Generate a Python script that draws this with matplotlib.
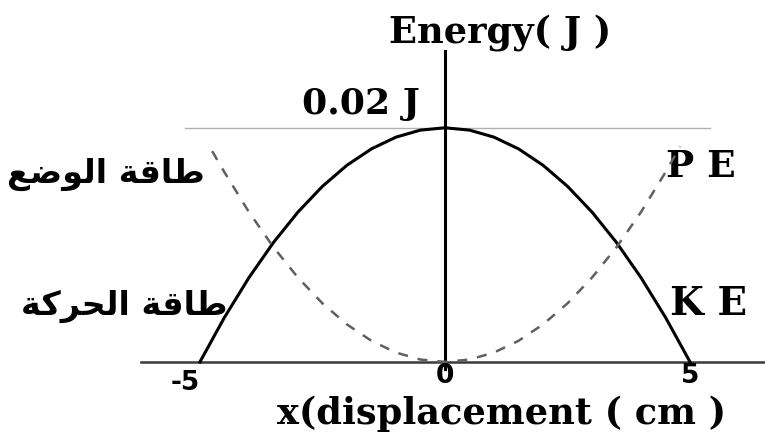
"""
Energy of a simple harmonic oscillator vs displacement: KE (solid) and PE (dashed).
"""
import matplotlib.pyplot as plt

# ---------------------------------------------------------------------------
# Data
# ---------------------------------------------------------------------------
X_TICKS = [-5, 0, 5]
E_MAX = 0.02   # J

KE_X = [-5.0, -4.5, -4.0, -3.5, -3.0, -2.5, -2.0, -1.5, -1.0, -0.5, 0.0,
        0.5, 1.0, 1.5, 2.0, 2.5, 3.0, 3.5, 4.0, 4.5, 5.0]
KE_Y = [0.0, 0.0038, 0.0072, 0.0102, 0.0128, 0.0150, 0.0168, 0.0182, 0.0192,
        0.0198, 0.0200, 0.0198, 0.0192, 0.0182, 0.0168, 0.0150, 0.0128,
        0.0102, 0.0072, 0.0038, 0.0]

PE_X = [-4.75, -4.5, -4.0, -3.5, -3.0, -2.5, -2.0, -1.5, -1.0, -0.5, 0.0,
        0.5, 1.0, 1.5, 2.0, 2.5, 3.0, 3.5, 4.0, 4.5, 4.8]
PE_Y = [0.0180, 0.0162, 0.0128, 0.0098, 0.0072, 0.0050, 0.0032, 0.0018,
        0.0008, 0.0002, 0.0, 0.0002, 0.0008, 0.0018, 0.0032, 0.0050, 0.0072,
        0.0098, 0.0128, 0.0162, 0.0184]

# Arabic labels, pre-shaped (presentation forms, visual order)
AR_PE = "\uFECA\uFEBF\uFEEE\uFEDF\uFE8D \uFE94\uFED7\uFE8E\uFEC3"   # طاقة الوضع
AR_KE = "\uFE94\uFEDB\uFEAE\uFEA4\uFEDF\uFE8D \uFE94\uFED7\uFE8E\uFEC3"   # طاقة الحركة

# ---------------------------------------------------------------------------
# Figure
# ---------------------------------------------------------------------------
fig = plt.figure(figsize=(7.65, 4.39), dpi=100)
ax = fig.add_axes([0, 0, 1, 1])
ax.set_xlim(-9.08, 6.53)
ax.set_ylim(-0.0065, 0.0310)
ax.axis("off")

serif = dict(family="DejaVu Serif", weight="bold", color="black")
sans = dict(family="DejaVu Sans", weight="bold", color="black")
arab = dict(family=["DejaVu Sans"], weight="bold", color="black")

# reference lines
ax.plot([-6.2, 6.53], [0, 0], color="#3a3a3a", lw=1.8, zorder=2)
ax.plot([-5.3, 5.4], [E_MAX, E_MAX], color="#b0b0b0", lw=1.0, zorder=1)
ax.plot([0, 0], [-0.0006, 0.0266], color="black", lw=2.2, zorder=3)

# curves
ax.plot(KE_X, KE_Y, color="black", lw=2.2, zorder=4)
ax.plot(PE_X, PE_Y, color="#606060", lw=1.8, ls=(0, (4, 4)), zorder=4)

# tick labels
for xt in X_TICKS:
    ax.text(xt - (0.3 if xt < 0 else 0), -0.0023 if xt < 0 else -0.0017,
            f"{xt}", ha="center", va="baseline", fontsize=19, **sans)

ax.text(1.12, 0.0274, "Energy( J )", ha="center", va="baseline", fontsize=26.5, **serif)
ax.text(-0.51, 0.0213, "0.02 J", ha="right", va="baseline", fontsize=26, **serif)
ax.text(1.16, -0.0052, "x(displacement ( cm )", ha="center", va="baseline",
        fontsize=26.5, **serif)
ax.text(4.5, 0.0159, "P E", ha="left", va="baseline", fontsize=27, **serif)
ax.text(4.6, 0.0041, "K E", ha="left", va="baseline", fontsize=28, **serif)

ax.text(-4.9, 0.0154, AR_PE, ha="right", va="baseline", fontsize=24, **arab)
ax.text(-4.43, 0.0041, AR_KE, ha="right", va="baseline", fontsize=24, **arab)

fig.savefig("out.png", dpi=100)
